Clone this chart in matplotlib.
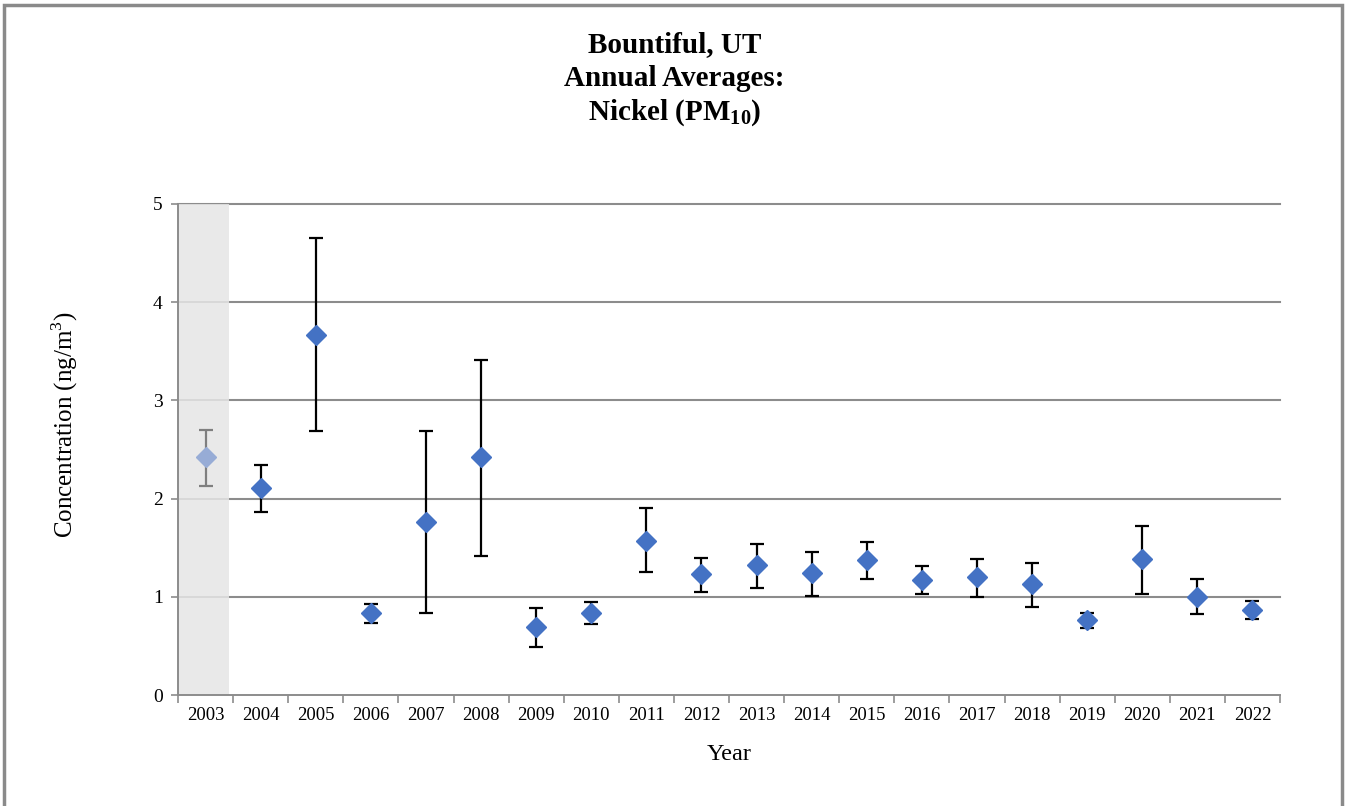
import numpy as np
import matplotlib.pyplot as plt
from matplotlib.patches import Rectangle

"""
  Bountiful, UT - annual average nickel (PM10) with error bars
"""

years = ['2003', '2004', '2005', '2006', '2007', '2008', '2009', '2010', '2011', '2012',
         '2013', '2014', '2015', '2016', '2017', '2018', '2019', '2020', '2021', '2022']
mean = [2.42, 2.11, 3.67, 0.83, 1.76, 2.42, 0.69, 0.84, 1.57, 1.23,
        1.32, 1.24, 1.37, 1.17, 1.20, 1.13, 0.76, 1.38, 1.00, 0.87]
upper = [2.70, 2.34, 4.65, 0.93, 2.69, 3.41, 0.89, 0.95, 1.90, 1.40,
         1.54, 1.46, 1.56, 1.31, 1.39, 1.34, 0.83, 1.72, 1.18, 0.96]
lower = [2.13, 1.86, 2.69, 0.73, 0.83, 1.42, 0.49, 0.72, 1.25, 1.05,
         1.09, 1.01, 1.18, 1.03, 1.00, 0.90, 0.68, 1.03, 0.82, 0.77]
yticks = [0, 1, 2, 3, 4, 5]

plt.rcParams['font.family'] = ['Liberation Serif', 'DejaVu Serif']
plt.rcParams['mathtext.fontset'] = 'custom'
plt.rcParams['mathtext.rm'] = 'Liberation Serif'
plt.rcParams['mathtext.bf'] = 'Liberation Serif:bold'

x = np.arange(len(years))
mean = np.array(mean)
err = np.array([mean - np.array(lower), np.array(upper) - mean])

fig = plt.figure(figsize=(13.49, 8.06), dpi=100)
ax = fig.add_axes([178/1349, 1 - 695/806, (1280 - 178)/1349, (695 - 204)/806])

grid_c = '#8c8c8c'
for v in yticks[1:]:
    ax.axhline(v, color=grid_c, lw=1.5, zorder=1, clip_on=False)

# shaded first year (partial data)
ax.axvspan(-0.5, 0.43, color='#e6e6e6', alpha=0.85, lw=0, zorder=2)

# 2003 in faded colours, the rest normal
ax.errorbar(x[:1], mean[:1], yerr=err[:, :1], fmt='none', ecolor='#7f7f7f',
            elinewidth=1.6, capsize=5, capthick=1.6, zorder=3)
ax.plot(x[:1], mean[:1], 'D', color='#97acd6', markersize=10, zorder=4)
ax.errorbar(x[1:], mean[1:], yerr=err[:, 1:], fmt='none', ecolor='black',
            elinewidth=1.6, capsize=5, capthick=1.6, zorder=3)
ax.plot(x[1:], mean[1:], 'D', color='#4472c4', markersize=10, zorder=4)

ax.set_xlim(-0.5, len(years) - 0.5)
ax.set_ylim(0, 5)
ax.set_yticks(yticks)
ax.set_xticks(np.arange(len(years) + 1) - 0.5)
ax.set_xticklabels([])
ax.set_xticks(x, minor=True)
ax.set_xticklabels(years, minor=True, fontsize=13.5)
ax.tick_params(axis='x', which='major', length=6, color=grid_c, width=1.2)
ax.tick_params(axis='x', which='minor', length=0, pad=9)
ax.tick_params(axis='y', length=5, color=grid_c, width=1.2, labelsize=14, pad=6)

for s in ['top', 'right']:
    ax.spines[s].set_visible(False)
for s in ['left', 'bottom']:
    ax.spines[s].set_color(grid_c)
    ax.spines[s].set_linewidth(1.4)

ax.set_xlabel('Year', fontsize=17.5, labelpad=14)
fig.text(65/1349, 1 - 425/806, 'Concentration (ng/m$^3$)', rotation=90,
         ha='center', va='center', fontsize=18)

fig.text(0.5, 1 - 45/806, 'Bountiful, UT', ha='center', va='center', fontsize=21, fontweight='bold')
fig.text(0.5, 1 - 79/806, 'Annual Averages:', ha='center', va='center', fontsize=21, fontweight='bold')
fig.text(0.5, 1 - 113/806, r'Nickel (PM$_{\mathbf{10}}$)', ha='center', va='center', fontsize=21, fontweight='bold')

# outer grey frame
fig.patches.append(Rectangle((4/1349, -0.05), (1342 - 4)/1349, 1.05 - 5/806, transform=fig.transFigure,
                             fill=False, edgecolor='#8a8a8a', lw=2.5))

fig.savefig('out.png', dpi=100)
